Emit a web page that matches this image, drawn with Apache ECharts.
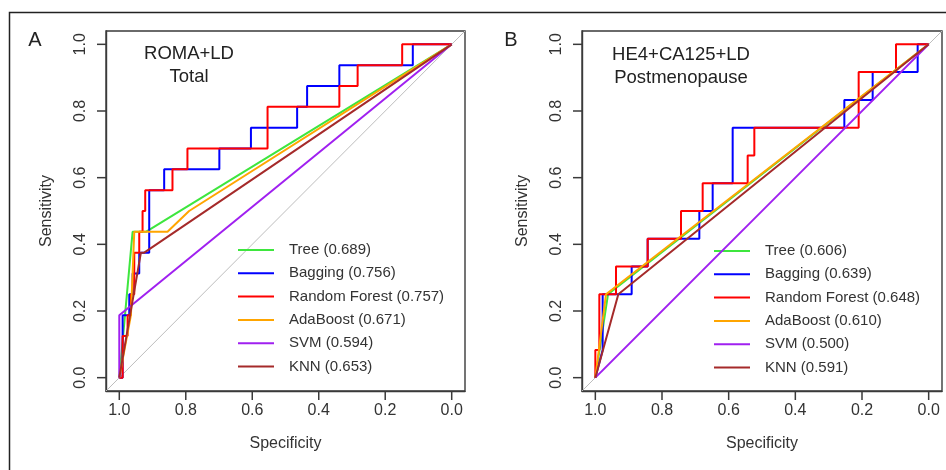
<!DOCTYPE html>
<html>
<head>
<meta charset="utf-8">
<script src="https://cdn.jsdelivr.net/npm/echarts@6/dist/echarts.min.js"></script>
<style>
html,body{margin:0;padding:0;background:#fff;}
#c{width:946px;height:470px;}
</style>
</head>
<body>
<div id="c"></div>
<script>
// ---------- data ----------
const tickValues = [0, 0.2, 0.4, 0.6, 0.8, 1.0];
const colors = ['#3ee63e', '#0000ff', '#ff0000', '#ffa500', '#a020f0', '#a52a2a'];

const panelTitlesA = ['ROMA+LD', 'Total'];
const panelTitlesB = ['HE4+CA125+LD', 'Postmenopause'];

const namesA = ['Tree (0.689)', 'Bagging (0.756)', 'Random Forest (0.757)', 'AdaBoost (0.671)', 'SVM (0.594)', 'KNN (0.653)'];
const namesB = ['Tree (0.606)', 'Bagging (0.639)', 'Random Forest (0.648)', 'AdaBoost (0.610)', 'SVM (0.500)', 'KNN (0.591)'];

// [specificity, sensitivity]
const treeA = [[1, 0], [0.96, 0.4375], [0.92, 0.4375], [0, 1]];
const bagA = [[1, 0], [0.99, 0], [0.99, 0.1875], [0.97, 0.1875], [0.97, 0.25], [0.96, 0.25], [0.96, 0.3125], [0.94, 0.3125], [0.94, 0.375], [0.91, 0.375], [0.91, 0.5625], [0.865, 0.5625], [0.865, 0.625], [0.699, 0.625], [0.699, 0.6875], [0.604, 0.6875], [0.604, 0.75], [0.465, 0.75], [0.465, 0.8125], [0.435, 0.8125], [0.435, 0.875], [0.338, 0.875], [0.338, 0.9375], [0.117, 0.9375], [0.117, 1], [0, 1]];
const rfA = [[1, 0], [0.99, 0], [0.99, 0.125], [0.975, 0.125], [0.975, 0.1875], [0.965, 0.1875], [0.965, 0.25], [0.955, 0.25], [0.955, 0.375], [0.94, 0.375], [0.94, 0.4375], [0.93, 0.4375], [0.93, 0.5], [0.922, 0.5], [0.922, 0.5625], [0.84, 0.5625], [0.84, 0.625], [0.795, 0.625], [0.795, 0.6875], [0.554, 0.6875], [0.554, 0.8125], [0.338, 0.8125], [0.338, 0.875], [0.283, 0.875], [0.283, 0.9375], [0.149, 0.9375], [0.149, 1], [0, 1]];
const adaA = [[1, 0], [0.965, 0.1875], [0.955, 0.4375], [0.855, 0.4375], [0.79, 0.5], [0, 1]];
const svmA = [[1, 0], [1, 0.1875], [0, 1]];
const knnA = [[1, 0], [0.935, 0.375], [0.925, 0.375], [0, 1]];

const treeB = [[1, 0], [0.962, 0.25], [0, 1]];
const bagB = [[1, 0], [0.978, 0.0833], [0.978, 0.25], [0.891, 0.25], [0.891, 0.3333], [0.843, 0.3333], [0.843, 0.4167], [0.688, 0.4167], [0.688, 0.5], [0.648, 0.5], [0.648, 0.5833], [0.588, 0.5833], [0.588, 0.75], [0.253, 0.75], [0.253, 0.8333], [0.168, 0.8333], [0.168, 0.9167], [0.033, 0.9167], [0.033, 1], [0, 1]];
const rfB = [[1, 0], [1, 0.0833], [0.988, 0.0833], [0.988, 0.25], [0.938, 0.25], [0.938, 0.3333], [0.843, 0.3333], [0.843, 0.4167], [0.743, 0.4167], [0.743, 0.5], [0.678, 0.5], [0.678, 0.5833], [0.543, 0.5833], [0.543, 0.6667], [0.523, 0.6667], [0.523, 0.75], [0.21, 0.75], [0.21, 0.9167], [0.098, 0.9167], [0.098, 1], [0, 1]];
const adaB = [[1, 0], [0.968, 0.25], [0, 1]];
const svmB = [[1, 0], [0, 1]];
const knnB = [[1, 0], [0.931, 0.25], [0, 1]];

const refLine = [[1.04, -0.04], [-0.04, 1.04]];
const axisMin = -0.04, axisMax = 1.04;

// ---------- chart ----------
const FONT = "'Liberation Sans', Arial, sans-serif";
const axisColor = '#3a3a3a';
const TICK_LEN = 9;

function xAxisDef(gridIndex) {
  return {
    type: 'value', gridIndex: gridIndex, inverse: true, min: axisMin, max: axisMax, position: 'bottom',
    name: 'Specificity', nameLocation: 'middle', nameGap: 45,
    nameTextStyle: { fontFamily: FONT, fontSize: 16, color: '#333' },
    axisLine: { show: true, onZero: false, lineStyle: { color: axisColor, width: 1.4 } },
    axisTick: { show: false },
    axisLabel: { customValues: tickValues, inside: false, formatter: v => v.toFixed(1), fontFamily: FONT, fontSize: 16, color: '#333', margin: 12 },
    splitLine: { show: false }
  };
}
function yAxisDef(gridIndex) {
  return {
    type: 'value', gridIndex: gridIndex, min: axisMin, max: axisMax, position: 'left',
    name: 'Sensitivity', nameLocation: 'middle', nameGap: 51, nameRotate: 90,
    nameTextStyle: { fontFamily: FONT, fontSize: 16, color: '#333' },
    axisLine: { show: true, onZero: false, lineStyle: { color: axisColor, width: 1.4 } },
    axisTick: { show: false },
    axisLabel: { customValues: tickValues, inside: false, formatter: v => v.toFixed(1), rotate: 90, fontFamily: FONT, fontSize: 16, color: '#333', margin: 17 },
    splitLine: { show: false }
  };
}

const dataA = [treeA, bagA, rfA, adaA, svmA, knnA];
const dataB = [treeB, bagB, rfB, adaB, svmB, knnB];

const series = [];
[0, 1].forEach(function (g) {
  series.push({
    type: 'line', xAxisIndex: g, yAxisIndex: g, data: refLine, showSymbol: false, silent: true,
    lineStyle: { color: '#bdbdbd', width: 1 }, z: 1
  });
  const names = g === 0 ? namesA : namesB;
  const dats = g === 0 ? dataA : dataB;
  names.forEach(function (n, i) {
    series.push({
      name: n, type: 'line', xAxisIndex: g, yAxisIndex: g, data: dats[i], showSymbol: false,
      color: colors[i], lineStyle: { color: colors[i], width: 2 }, z: 2 + i
    });
  });
});

function legendDef(left, top, names) {
  return {
    data: names, left: left, top: top, orient: 'vertical', padding: 0, itemGap: 5.3,
    icon: 'rect', itemWidth: 36, itemHeight: 2,
    textStyle: { fontFamily: FONT, fontSize: 15, color: '#333', lineHeight: 18, padding: [0, 0, 0, 10] },
    selectedMode: false
  };
}

const chart = echarts.init(document.getElementById('c'), null, { renderer: 'canvas' });
chart.setOption({
  animation: false,
  backgroundColor: '#fff',
  grid: [
    { left: 106, top: 31, width: 359, height: 360, show: true, borderColor: axisColor, borderWidth: 1.4 },
    { left: 582, top: 31, width: 360, height: 360, show: true, borderColor: axisColor, borderWidth: 1.4 }
  ],
  xAxis: [xAxisDef(0), xAxisDef(1)],
  yAxis: [yAxisDef(0), yAxisDef(1)],
  legend: [legendDef(238, 241, namesA), legendDef(714, 242, namesB)],
  series: series
});

// decorations: frame, panel letters, titles, and outward R-style ticks located through the axes' scales
const gfx = [
  { type: 'rect', shape: { x: 9.5, y: 12.5, width: 960, height: 480 }, style: { fill: 'none', stroke: '#222', lineWidth: 1.5 }, silent: true },
  { type: 'text', x: 35, y: 40, style: { text: 'A', font: '20px ' + FONT, fill: '#222', align: 'center', verticalAlign: 'middle' } },
  { type: 'text', x: 511, y: 40, style: { text: 'B', font: '20px ' + FONT, fill: '#222', align: 'center', verticalAlign: 'middle' } },
  { type: 'text', x: 189, y: 54, style: { text: panelTitlesA[0], font: '18.5px ' + FONT, fill: '#222', align: 'center', verticalAlign: 'middle' } },
  { type: 'text', x: 189, y: 77, style: { text: panelTitlesA[1], font: '18.5px ' + FONT, fill: '#222', align: 'center', verticalAlign: 'middle' } },
  { type: 'text', x: 681, y: 55, style: { text: panelTitlesB[0], font: '18.5px ' + FONT, fill: '#222', align: 'center', verticalAlign: 'middle' } },
  { type: 'text', x: 681, y: 78, style: { text: panelTitlesB[1], font: '18.5px ' + FONT, fill: '#222', align: 'center', verticalAlign: 'middle' } }
];
[0, 1].forEach(function (g) {
  tickValues.forEach(function (v) {
    const px = chart.convertToPixel({ gridIndex: g }, [v, axisMin]);
    const py = chart.convertToPixel({ gridIndex: g }, [axisMax, v]);
    gfx.push({ type: 'rect', silent: true, z: 100, shape: { x: px[0] - 0.75, y: px[1], width: 1.5, height: TICK_LEN }, style: { fill: axisColor } });
    gfx.push({ type: 'rect', silent: true, z: 100, shape: { x: py[0] - TICK_LEN, y: py[1] - 0.75, width: TICK_LEN, height: 1.5 }, style: { fill: axisColor } });
  });
});
chart.setOption({ graphic: { elements: gfx } });
</script>
</body>
</html>
